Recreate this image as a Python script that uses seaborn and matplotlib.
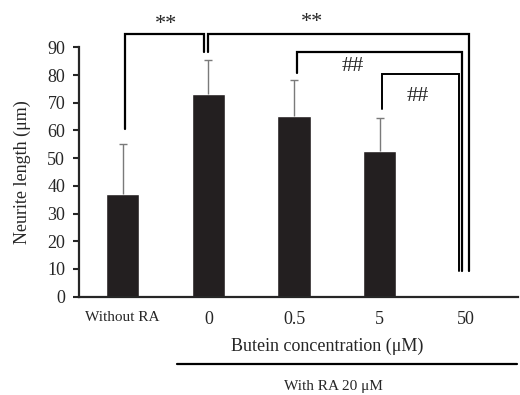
"""
Neurite length bar chart with significance brackets.
"""

import matplotlib
matplotlib.use("Agg")
import matplotlib.pyplot as plt
import seaborn as sns
import pandas as pd
import numpy as np

# Data
groups = ["Without RA", "0", "0.5", "5", "50"]
mean_length = [37.0, 73.0, 65.2, 52.6, 0.6]
sd_length = [18.0, 12.3, 13.0, 12.0, 0.0]
y_ticks = [0, 10, 20, 30, 40, 50, 60, 70, 80, 90]

df = pd.DataFrame({"group": groups, "length": mean_length})

sns.set_style("ticks")
plt.rcParams["font.family"] = ["Liberation Serif", "DejaVu Serif"]

BAR_COLOR = "#231f20"
LW = 1.6


def bracket(ax, x_left, x_right, y_left, y_top, y_right, label, label_x, label_y, lw=LW):
    # left leg, top, right leg
    ax.plot([x_left, x_left, x_right, x_right], [y_left, y_top, y_top, y_right],
            color="black", lw=lw, clip_on=False, solid_joinstyle="miter")
    ax.text(label_x, label_y, label, ha="center", va="center", fontsize=16, clip_on=False)


fig = plt.figure(figsize=(5.2, 3.95), dpi=100)
ax = fig.add_axes([0.152, 0.249, 0.845, 0.631])

sns.barplot(data=df, x="group", y="length", order=groups, color=BAR_COLOR,
            saturation=1, width=0.39, errorbar=None, ax=ax)

# upper error bars only (no cap at the bar top)
xs = np.arange(len(groups))
means = np.array(mean_length)
sd = np.array(sd_length)
mask = sd > 0
ax.vlines(xs[mask], means[mask], means[mask] + sd[mask], color="#7a7a7a", lw=1)
ax.scatter(xs[mask], means[mask] + sd[mask], marker="_", s=30, color="#7a7a7a",
           linewidths=1, zorder=3)

ax.set_xlim(-0.51, 4.62)
ax.set_ylim(0, 90)
ax.set_yticks(y_ticks)
ax.set_xlabel("")
ax.set_ylabel("Neurite length (μm)", fontsize=13)
ax.yaxis.set_label_coords(-0.11, 0.5)

for s in ["top", "right"]:
    ax.spines[s].set_visible(False)
for s in ["left", "bottom"]:
    ax.spines[s].set_linewidth(1.6)

ax.tick_params(axis="y", labelsize=13, length=4, width=1.5, pad=6)
ax.tick_params(axis="x", length=0, pad=10, labelsize=13)
ax.set_xticks(xs)
ax.set_xticklabels(groups)
ax.get_xticklabels()[0].set_fontsize(11)
ax.get_xticklabels()[0].set_y(0.0)

# significance brackets
bracket(ax, 0.03, 0.95, 60.4, 94.7, 88.4, "**", 0.5, 98.2)
bracket(ax, 1.0, 4.04, 88.4, 94.7, 9.4, "**", 2.21, 98.9)
bracket(ax, 2.04, 3.96, 80.6, 88.4, 9.4, "##", 2.69, 83.0)
bracket(ax, 3.03, 3.93, 67.8, 80.4, 9.4, "##", 3.45, 72.3, lw=1.4)

# group labels under the axis
ax.text(2.39, -18.1, "Butein concentration (μM)", ha="center", va="center",
        fontsize=13, clip_on=False)
ax.plot([0.63, 4.6], [-24.3, -24.3], color="black", lw=1.6, clip_on=False)
ax.text(2.46, -32.6, "With RA 20 μM", ha="center", va="center",
        fontsize=11, clip_on=False)

fig.savefig("out.png", dpi=100)
plt.close(fig)
